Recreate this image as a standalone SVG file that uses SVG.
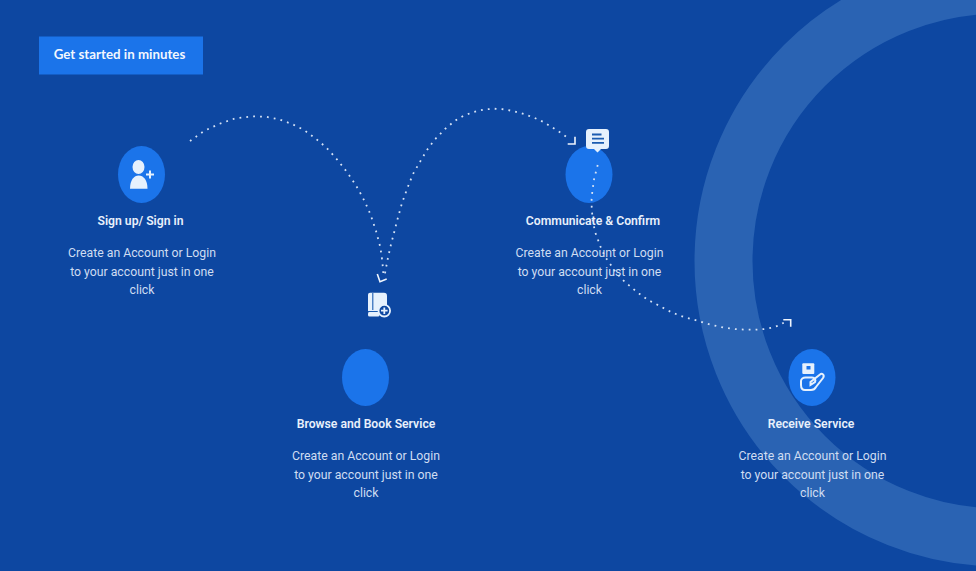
<svg xmlns="http://www.w3.org/2000/svg" width="976" height="571" viewBox="0 0 976 571">
<style>
.t{font-family:Roboto,"Liberation Sans",sans-serif;text-anchor:middle}
.h{font-size:12.2px;font-weight:600;fill:#e8f0fb}
.b{font-size:12.25px;fill:#cfddf2}
.c{fill:#1b74ea}
.i{fill:#e6f1fd}
.d{fill:none;stroke:#d5e2f5;stroke-width:1.8;stroke-dasharray:1.8 5.1}
.a{fill:none;stroke:#eef4fd;stroke-width:1.6}
</style>
<rect width="976" height="571" fill="#0d47a1"/>
<circle cx="1000" cy="261" r="276.500" fill="none" stroke="#2a63b3" stroke-width="58"/>
<g id="button"><rect x="39" y="36.500" width="164" height="38" fill="#1b74ea"/><text x="119.500" y="58.500" text-anchor="middle" font-family="Lato,sans-serif" font-size="13.300" font-weight="700" fill="#f2f7fe">Get started in minutes</text></g>
<g id="node-signup">
<ellipse class="c" cx="141.500" cy="174.500" rx="23.500" ry="28.500"/>
<ellipse class="i" cx="138.500" cy="167" rx="6" ry="7"/><path class="i" d="M130 188.700C130 180 134 175.500 138.700 175.500C143.500 175.500 147.500 180 147.500 188.700Z"/><path d="M146 174.500H154M150 170.500V178.500" stroke="#e6f1fd" stroke-width="2" fill="none"/>
<text class="t h" x="140.500" y="225">Sign up/ Sign in</text>
<text class="t b" x="142" y="257">Create an Account or Login</text><text class="t b" x="142" y="275.500">to your account just in one</text><text class="t b" x="142" y="293.500">click</text>
</g>
<g id="node-browse">
<ellipse class="c" cx="365.500" cy="377.500" rx="23.500" ry="28.500"/>
<path class="i" d="M370 292.700H384A3 3 0 0 1 387 295.700V313H370.500A2.500 2.500 0 0 1 368 310.500V294.700A2 2 0 0 1 370 292.700Z"/>
<path d="M372.800 293V310" stroke="#1a5bb0" stroke-width="1.100"/>
<rect class="i" x="368" y="312" width="11.500" height="4.500" rx="1.500"/>
<path d="M368 311.500H380" stroke="#1a5bb0" stroke-width="1"/>
<circle cx="384.300" cy="310.700" r="5.800" fill="#0d47a1" stroke="#e6f1fd" stroke-width="1.800"/><path d="M381 310.700H387.600M384.300 307.400V314" stroke="#e6f1fd" stroke-width="1.800"/>
<text class="t h" x="366" y="428">Browse and Book Service</text>
<text class="t b" x="366" y="460">Create an Account or Login</text><text class="t b" x="366" y="478.500">to your account just in one</text><text class="t b" x="366" y="496.500">click</text>
</g>
<g id="node-communicate">
<ellipse class="c" cx="589" cy="174.500" rx="23.500" ry="28.500"/>
<path class="i" d="M589 129H606A3 3 0 0 1 609 132V146A3 3 0 0 1 606 149H601L597.500 152.500L594 149H589A3 3 0 0 1 586 146V132A3 3 0 0 1 589 129Z"/>
<path d="M592 134.500H601.500M592 138.700H604M592 142.900H604" stroke="#1a5bb0" stroke-width="1.800" fill="none"/>
<text class="t h" x="593" y="225">Communicate &amp; Confirm</text>
<text class="t b" x="589.500" y="257">Create an Account or Login</text><text class="t b" x="589.500" y="275.500">to your account just in one</text><text class="t b" x="589.500" y="293.500">click</text>
</g>
<g id="node-receive">
<ellipse class="c" cx="812" cy="377.500" rx="23.500" ry="28.500"/>
<rect x="802.300" y="363.300" width="12" height="10.700" rx="1" class="i"/><rect x="806.500" y="366" width="4" height="3.500" fill="#1b74ea"/>
<path d="M805.500 377.500H812C815 377.500 816 380 815 382L810.500 385V382L820 374.500C822 372.500 825 375 823 378L816 387C815 389 813 390 811 390H805C802 390 801 388 801 385V381C801 379 803 377.500 805.500 377.500Z" fill="none" stroke="#e6f1fd" stroke-width="2"/>
<text class="t h" x="811" y="428">Receive Service</text>
<text class="t b" x="812.500" y="460">Create an Account or Login</text><text class="t b" x="812.500" y="478.500">to your account just in one</text><text class="t b" x="812.500" y="496.500">click</text>
</g>
<g id="connectors">
<path class="d" d="M190 141L204 131L219 124L235 118.500L252 116.300L266 116.800L279 119.300L292 124L304 130L315 138L325.700 147L335 157L343.700 167.700L351.500 178.500L358.700 190L365 202L370.700 215L376 231L380.300 247L382.300 261L383.300 273"/>
<path class="a" d="M377.300 274L380 281.700L386.700 279"/>
<path class="d" d="M385 273.300L387.500 260L390.700 245.700L397.300 220L402 203L407.700 187.300L413 174L419.700 162.300L427 150L435 139.300L445 129L455 120.700L464 115.500L473.700 112L484 109.500L494 108.700L504 109.300L514.300 111.300L524 114L534 117.700L543.500 122L552.700 127.700L561 133L569.300 139"/>
<path class="a" d="M567.700 144H575V136.700"/>
<path class="d" d="M597.700 165L596 171.700L594.300 177.700L593.300 184.700L592.300 191.700L591.600 199L591.700 206.700L592.500 219L595 231.700L597.300 238L601 248L605 256.700L609 262.300L615 271L621.700 279L631.700 287.700L639 293.500L648 300L654 303L672.300 312.700L684 317L697.300 320.700L710 324.500L724.300 327.700L735 329L745 329.700L755 329.700L765 329L772 327.700L778.300 325.700L785 322"/>
<path class="a" d="M783.300 319.700H790.700V326.700"/>
</g>
</svg>
